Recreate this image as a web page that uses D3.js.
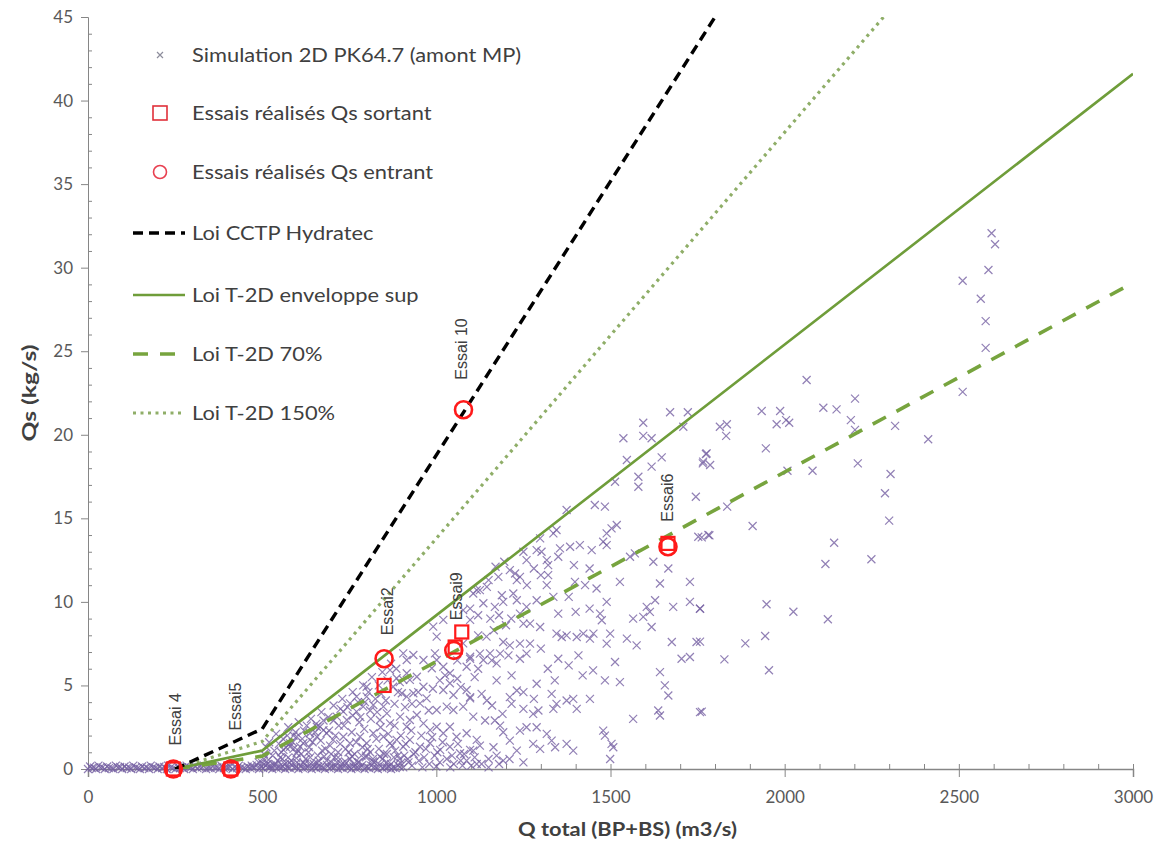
<!DOCTYPE html>
<html><head><meta charset="utf-8">
<script src="https://cdn.jsdelivr.net/npm/d3@7"></script>
<style>
html,body{margin:0;padding:0;background:#fff;}
svg{display:block;}
</style></head>
<body>
<svg id="chart" width="1162" height="841"></svg>
<script>
// ---------------- DATA ----------------
const xTicks = [0, 500, 1000, 1500, 2000, 2500, 3000];
const yTicks = [0, 5, 10, 15, 20, 25, 30, 35, 40, 45];
const xLabel = "Q total (BP+BS) (m3/s)";
const yLabel = "Qs (kg/s)";

// Laws (Q, Qs)
const lawCCTP = [[250, 0], [500, 2.4], [1800, 45]];
const lawT2D = [[250, 0], [500, 1.1], [3000, 41.6]];
const lawT2D70 = [[250, 0], [500, 0.77], [3000, 29.1]];
const lawT2D150 = [[250, 0], [500, 1.65], [3000, 62.4]];

// Essais (tests)
const essaisSortant = [[245, 0], [410, 0], [850, 5.0], [1054, 7.3], [1073, 8.2], [1665, 13.5]];
const essaisEntrant = [[245, 0], [410, 0], [850, 6.6], [1050, 7.1], [1078, 21.5], [1665, 13.3]];
const essaiNames = ["Essai 4", "Essai5", "Essai2", "Essai9", "Essai 10", "Essai6"];
const essaiLabelQ = [253, 425, 860, 1060, 1075, 1665];
const essaiLabelQs = [1.4, 2.3, 8.0, 8.9, 23.3, 14.8];

// Simulation 2D PK64.7 (amont MP) scatter
const simZeroBand = [
  [0,0],[11,0.05],[23,0],[36,0.1],[48,0],[60,0.05],[73,0],[86,0.1],[98,0],[111,0.05],[124,0],[137,0.1],[149,0],
  [162,0.05],[175,0],[187,0.1],[200,0],[213,0.05],[226,0],[238,0.1],[251,0],[264,0.05],[276,0],[289,0.1],
  [301,0],[314,0.05],[327,0.1],[339,0],[352,0.05],[365,0.1],[377,0],[390,0.05],[402,0.1],[415,0],[428,0.05],
  [440,0.1],[453,0],[466,0.05],[478,0.1],[491,0],[503,0.05],[516,0.1],[529,0],[541,0.05],[554,0.1],[566,0],
  [579,0.05],[592,0.1],[604,0],[617,0.05],[630,0.1],[642,0],[655,0.05],[668,0.1],[680,0],[693,0.05],[706,0.1],
  [718,0],[731,0.05],[744,0.1],[756,0],[769,0.05],[782,0.1],[794,0],[807,0.05],[820,0.1],[832,0],[845,0.05],
  [858,0.1],[870,0],[883,0.05],[905,0.1],[930,0.2],[960,0.1],[1000,0.15],[1040,0.1],[1075,0.2],[1150,0.1],
  [6,0.15],[30,0.2],[55,0.15],[80,0.2],[105,0.15],[130,0.2],[155,0.15],[180,0.2],[205,0.15],[230,0.2],
  [258,0.15],[283,0.2],[308,0.15],[333,0.2],[358,0.15],[383,0.2],[408,0.15],[433,0.2],[458,0.15],[484,0.25],
  [510,0.2],[535,0.25],[560,0.15],[585,0.25],[610,0.2],[636,0.25],[661,0.15],[686,0.25],[712,0.2],[737,0.25],
  [762,0.15],[788,0.25],[813,0.2],[838,0.25],[864,0.15],[889,0.25],
  [17,0.08],[42,0.1],[67,0.05],[92,0.12],[118,0.08],[143,0.05],[168,0.1],[193,0.08],[219,0.12],[244,0.05],
  [270,0.1],[295,0.08],[320,0.12],[346,0.05],[371,0.1],[396,0.08],[421,0.12],[447,0.05],[472,0.1],[497,0.12],
  [522,0.08],[548,0.12],[573,0.08],[598,0.12],[623,0.08],[649,0.12],[674,0.08],[699,0.12],[725,0.08],
  [750,0.12],[775,0.08],[800,0.12],[826,0.08],[851,0.12],[876,0.08],[895,0.12]
];
const simLow = [
  [470,0.2],[490,0.4],[505,0.6],[515,0.3],[530,0.8],[545,0.5],[555,1.0],[565,0.3],[575,0.7],[590,1.2],
  [600,0.4],[612,0.9],[625,0.6],[635,1.3],[648,0.3],[660,0.8],[672,1.1],[685,0.5],[695,1.4],[708,0.7],
  [718,1.0],[728,0.3],[740,1.2],[752,0.6],[765,0.9],[775,0.4],[788,1.3],[798,0.7],[810,1.0],[822,0.4],
  [835,1.2],[845,0.6],[858,0.9],[870,0.3],[882,1.1],[895,0.6],[908,0.8],[920,0.4],[935,0.9],[950,0.5],
  [965,0.7],[980,0.3],[995,0.8],[1010,0.4],[1030,0.6],[1050,0.3],[1070,0.5],[1100,0.2],[1130,0.3],
  [520,1.6],[540,2.1],[560,1.8],[575,2.5],[590,2.0],[605,2.8],[620,2.3],[640,3.0],[655,2.7],[670,3.4],
  [690,3.1],[705,3.8],[720,2.6],[730,4.2],[745,3.7],[760,4.6],[775,4.0],[790,5.0],[805,4.6],[815,5.5],
  [825,4.2],[835,5.0],[845,5.8],[860,5.3],[870,6.3],[885,6.0],[895,5.2]
];
const simDense = [
  [505,0.9],[512,1.3],[525,0.2],[535,1.1],[548,1.5],[552,0.7],[568,1.3],[572,2.0],[583,0.5],[588,1.6],
  [596,2.2],[603,1.1],[615,1.8],[622,0.3],[628,2.6],[633,1.0],[645,1.6],[652,2.2],[662,0.5],[668,1.7],
  [676,2.9],[681,1.2],[692,2.3],[698,0.9],[710,2.0],[715,0.4],[724,1.5],[735,2.6],[748,1.0],[757,2.2],
  [763,0.3],[770,1.6],[779,2.8],[785,0.8],[793,2.4],[803,1.2],[812,3.0],[818,0.6],[828,1.8],[840,2.5],
  [850,0.9],[862,2.1],[873,1.4],[880,2.6],[890,0.8],[898,2.0],[912,1.5],[928,2.3],[940,1.0],[957,2.0],
  [970,1.2],[988,1.9],[1003,1.0],[1018,1.6],[1045,0.8],[1062,1.5],[1080,0.9],[1110,0.7],[1125,1.4],
  [1150,0.6],[1180,0.3],[1210,0.6],[1250,0.4],
  [705,2.9],[725,3.6],[760,3.2],[782,3.1],[795,4.0],[810,3.5],[830,3.4],[842,4.5],[855,4.1],[880,3.9],
  [890,4.6],[910,3.7],[930,3.9],[948,4.6],[978,3.5],[990,4.8],[1010,5.3],[1025,5.6],[1060,5.4],[1070,4.9],
  [1110,5.5],[1120,6.0],[1060,6.5],[1120,8.0],[1155,9.0],[1165,8.3],[1180,9.2],[1200,8.6],[1215,9.0],
  [1150,11.3],[1170,12.1],[1195,12.4],[1260,11.0],[1280,12.0],[1300,11.6],[1350,12.7],[1395,12.2],
  [1440,12.0],[1460,10.8],[1440,9.6],[1400,9.4],[1380,10.3],[1350,9.3],[1420,5.6],[1450,5.9],[1380,6.2],
  [1350,6.6],[1300,7.2],[1320,6.0],[1340,5.3],[1280,4.2],[1250,4.6],[1190,3.3],[1160,3.8],
  [500,0.35],[518,0.55],[538,0.3],[558,0.6],[578,0.35],[598,0.65],[618,0.4],[638,0.7],[658,0.35],
  [678,0.75],[698,0.4],[718,0.7],[738,0.45],[758,0.75],[778,0.4],[798,0.8],[818,0.45],[838,0.75],
  [858,0.4],[878,0.7],[898,0.35],[918,0.6]
];
const simMid = [
  [905,6.92],[915,6.52],[934,6.82],[963,6.52],[987,6.03],[996,6.92],[1077,7.52],[1087,6.12],[1097,6.72],
  [1039,5.13],[1020,4.73],[1049,4.43],[1087,4.73],[915,5.73],[924,5.33],[944,5.52],[886,5.43],[876,4.92],
  [901,4.53],[915,4.33],[963,4.92],[972,4.23],[953,3.93],[1001,3.53],[1030,3.73],[1049,3.53],[1077,3.73],
  [1097,4.23],[1106,3.13],[800,4.33],[819,3.83],[790,3.73],[771,3.43],[752,3.93],[733,3.43],[714,3.13],
  [743,2.93],[848,3.73],[858,3.33],[838,2.93],[867,2.73],[896,3.13],[924,2.93],[944,3.23],[915,2.53],
  [963,2.73],[982,2.33],[1001,2.53],[1020,2.14],[1039,2.53],[1058,1.93],[1087,2.14],[1116,1.74],[666,2.53],
  [685,2.14],[657,1.93],[637,1.74],[618,1.54],[704,1.74],[733,1.93],[752,1.54],[781,1.93],[800,1.54],
  [819,2.14],[848,1.93],[867,1.54],[886,1.74],[905,1.33],[924,1.74],[953,1.33],[982,1.54],[1011,1.14],
  [1039,1.33],[1068,0.94],[1097,1.14],[580,1.33],[561,1.14],[599,0.94],
  [867,5.92],[800,4.92],[771,4.33],[905,5.33],[934,4.53],[676,2.33],[657,2.53],[637,2.14],[599,1.93],
  [580,1.54],[609,1.33],[991,8.52],[1020,8.92],[1001,7.92],[1106,10.5],[1125,10.7],[1135,9.92],
  [1077,9.51],[1097,8.92],[1144,7.92],[1154,6.92],[1135,6.52],[1173,6.32],[1001,6.52],[1020,6.12],[1039,5.73]
];
const simHigh = [
  [1671,21.35],[1722,21.35],[1594,20.72],[1709,20.48],[1537,19.79],[1594,19.93],[1618,19.79],[1547,18.49],
  [1647,18.65],[1776,18.89],[1766,18.39],[1618,18.09],[1513,17.19],[1580,17.49],[1580,16.89],[1745,16.29],
  [1455,15.8],[1484,15.7],[1374,15.5],[1518,14.6],[1503,14.4],[1345,14.3],[1336,14.1],[1489,14.1],
  [1479,13.6],[1489,13.4],[1298,13.8],[1384,13.3],[1355,13.2],[1412,13.4],[1446,13.1],[1288,13.1],
  [1302,13.0],[1250,13.0],[1317,12.5],[1321,12.2],[1259,12.5],[1556,12.7],[1570,12.9],[1752,13.9],
  [1781,14.0],[1666,12.0],[1623,12.4],[1211,11.9],[1226,11.7],[1231,11.3],[1240,11.5],[1178,11.5],
  [1188,10.4],[1145,10.9],[1116,10.7],[1321,11.6],[1398,11.2],[1427,11.0],[1317,11.0],[1527,11.2],
  [1642,11.1],[1728,11.2],[1221,10.5],[1231,10.1],[1288,10.1],[1168,9.7],[1192,10.0],[1097,9.6],
  [1120,9.2],[1259,9.7],[1240,9.3],[1250,8.7],[1336,10.3],[1470,9.3],[1475,8.9],[1489,10.0],[1604,9.7],
  [1613,9.4],[1594,9.1],[1618,8.5],[1565,9.0],[1628,10.1],[1680,9.7],[1728,10.0],[1757,9.6],[1269,8.7],
  [1298,8.5],[1345,8.1],[1360,7.9],[1374,8.0],[1403,7.9],[1422,8.1],[1451,8.1],[1441,7.8],[1499,8.1],
  [1547,7.8],[1575,7.4],[1489,7.5],[1676,7.6],[1704,6.6],[1728,6.7],[1747,7.6],[1192,7.6],[1211,7.4],
  [1240,7.5],[1269,7.5],[1125,6.9],[1159,6.5],[1097,6.6],[1183,6.9],[1207,6.8],[1240,6.6],[1259,6.9],
  [1408,6.8],[1513,6.4],[1642,5.8],[1484,5.3],[1527,5.2],[1656,5.0],[1666,4.4],[1173,5.3],[1216,5.6],
  [1231,4.7],[1288,5.1],[1331,4.5],[1097,4.3],[1130,4.5],[1145,4.1],[1211,4.3],[1216,3.9],[1250,3.6],
  [1278,3.3],[1293,3.5],[1345,3.9],[1374,4.1],[1393,4.2],[1403,3.6],[1336,3.6],[1441,4.2],[1565,3.0],
  [1637,3.5],[1642,3.2],[1757,3.4],[1479,2.3],[1484,2.0],[1503,1.5],[1508,1.3],[1499,0.6],[1140,2.9],
  [1168,2.9],[1183,2.6],[1192,2.2],[1240,2.3],[1259,2.5],[1288,2.5],[1317,2.1],[1211,1.7],[1231,1.1],
  [1278,1.5],[1298,1.2],[1331,1.7],[1341,1.3],[1374,1.5],[1393,1.1],[1164,1.3],[1173,0.8],[1192,0.5],
  [1106,1.1],[1087,0.5],[1116,0.3]
];
const simRight = [
  [2063,23.28],[2202,22.16],[1934,21.42],[1987,21.42],[2111,21.62],[2149,21.52],[2190,20.88],[1814,20.48],
  [1834,20.63],[1832,19.93],[1977,20.63],[2004,20.88],[2013,20.72],[2202,20.29],[2317,20.53],[1946,19.19],
  [1774,18.85],[1765,18.29],[1786,18.19],[2008,17.85],[2080,17.85],[2210,18.29],[2304,17.65],[2288,16.5],
  [1835,15.7],[2300,14.86],[1908,14.54],[1784,13.98],[1762,13.86],[2142,13.54],[2117,12.27],[2249,12.55],
  [1757,9.59],[1948,9.86],[2025,9.41],[2124,8.96],[1757,7.62],[1944,7.96],[1887,7.52],[1827,6.56],
  [1955,5.91],[1762,3.43],
  [2594,32.06],[2604,31.4],[2585,29.86],[2511,29.22],[2563,28.14],[2577,26.8],[2577,25.2],[2511,22.57],[2412,19.73]
];

const legendItems = [
  {label: "Simulation 2D PK64.7 (amont MP)", type: "cross"},
  {label: "Essais réalisés Qs sortant", type: "square"},
  {label: "Essais réalisés Qs entrant", type: "circle"},
  {label: "Loi CCTP Hydratec", type: "cctp"},
  {label: "Loi T-2D enveloppe sup", type: "t2d"},
  {label: "Loi T-2D 70%", type: "t2d70"},
  {label: "Loi T-2D 150%", type: "t2d150"}
];

// ---------------- STYLES ----------------
const C = {
  axis: "#868686", tick: "#595959", text: "#404040",
  sim: "#7660a3", red: "#ff1a1a", green: "#6f9d3a", green70: "#77a43e", green150: "#8fae68", black: "#000"
};
const lineStyles = {
  cctp: {color: C.black, width: 3.4, dash: "10,6"},
  t2d: {color: C.green, width: 2.6, dash: null},
  t2d70: {color: C.green70, width: 3.6, dash: "15,12"},
  t2d150: {color: C.green150, width: 3.2, dash: "3,4.5"}
};

const svg = d3.select("#chart");
const plot = {left: 88, right: 1133, top: 17, bottom: 769};

const x = d3.scaleLinear().domain([0, 3000]).range([plot.left, plot.right]);
const y = d3.scaleLinear().domain([0, 45]).range([plot.bottom, plot.top]);

svg.append("defs").append("clipPath").attr("id", "clip")
  .append("rect").attr("x", plot.left).attr("y", plot.top)
  .attr("width", plot.right - plot.left).attr("height", plot.bottom - plot.top);

// ---------------- AXES ----------------
const fontTick = "Lato, 'Open Sans', sans-serif";

const yAxisG = svg.append("g").attr("transform", `translate(${plot.left},0)`)
  .call(d3.axisLeft(y).tickValues(yTicks).tickSize(7).tickPadding(8).tickFormat(d3.format("d")));
yAxisG.select(".domain").attr("stroke", C.axis);
yAxisG.selectAll(".tick line").attr("stroke", C.axis);
yAxisG.selectAll(".tick text").attr("fill", C.tick).style("font-family", fontTick).style("font-size", "17px");
const yMinor = d3.range(1, 45).filter(v => v % 5 !== 0);
svg.append("g").selectAll("line").data(yMinor).join("line")
  .attr("x1", plot.left).attr("x2", plot.left + 4)
  .attr("y1", d => y(d) + 0.5).attr("y2", d => y(d) + 0.5)
  .attr("stroke", C.axis).attr("stroke-width", 1);

const xAxisG = svg.append("g").attr("transform", `translate(0,${plot.bottom})`)
  .call(d3.axisBottom(x).tickValues(xTicks).tickSize(8).tickPadding(14).tickFormat(d3.format("d")));
xAxisG.select(".domain").attr("stroke", C.axis).attr("stroke-width", 1.5);
xAxisG.selectAll(".tick line").attr("stroke", C.axis).attr("y1", -5);
xAxisG.selectAll(".tick text").attr("fill", C.tick).style("font-family", fontTick).style("font-size", "17px");
const xMinor = d3.range(100, 3000, 100).filter(v => v % 500 !== 0);
svg.append("g").selectAll("line").data(xMinor).join("line")
  .attr("x1", d => x(d) + 0.5).attr("x2", d => x(d) + 0.5)
  .attr("y1", plot.bottom - 5).attr("y2", plot.bottom)
  .attr("stroke", C.axis).attr("stroke-width", 1);

svg.append("text").attr("transform", `translate(${(plot.left + plot.right) / 2 + 17},836) scale(1.15,1)`)
  .attr("text-anchor", "middle").attr("fill", C.text)
  .style("font-family", fontTick).style("font-weight", "bold").style("font-size", "19px")
  .text(xLabel);
svg.append("text").attr("transform", `translate(36,${(plot.top + plot.bottom) / 2}) rotate(-90) scale(1.3,1)`)
  .attr("text-anchor", "middle").attr("fill", C.text)
  .style("font-family", fontTick).style("font-weight", "bold").style("font-size", "19px")
  .text(yLabel);

// ---------------- SCATTER ----------------
const crossPath = "M-4,-4L4,4M-4,4L4,-4";
const simAll = simZeroBand.concat(simLow, simDense, simMid, simHigh, simRight);
svg.append("g").selectAll("path").data(simAll).join("path")
  .attr("d", crossPath)
  .attr("transform", d => `translate(${x(d[0])},${y(d[1])})`)
  .attr("fill", "none").attr("stroke", C.sim).attr("stroke-width", 1.2).attr("stroke-opacity", 0.8);

// ---------------- LINES ----------------
const line = d3.line().x(d => x(d[0])).y(d => y(d[1]));
const linesG = svg.append("g").attr("clip-path", "url(#clip)");
[["t2d70", lawT2D70], ["t2d150", lawT2D150], ["t2d", lawT2D], ["cctp", lawCCTP]].forEach(([k, data]) => {
  const s = lineStyles[k];
  linesG.append("path").datum(data).attr("d", line)
    .attr("fill", "none").attr("stroke", s.color).attr("stroke-width", s.width)
    .attr("stroke-dasharray", s.dash).attr("stroke-linejoin", "round");
});

// ---------------- ESSAIS ----------------
svg.append("g").selectAll("rect").data(essaisSortant).join("rect")
  .attr("x", d => x(d[0]) - 6.5).attr("y", d => y(d[1]) - 6.5)
  .attr("width", 13).attr("height", 13)
  .attr("fill", "none").attr("stroke", C.red).attr("stroke-width", 2.2);
svg.append("g").selectAll("circle").data(essaisEntrant).join("circle")
  .attr("cx", d => x(d[0])).attr("cy", d => y(d[1])).attr("r", 8.5)
  .attr("fill", "none").attr("stroke", C.red).attr("stroke-width", 2.6);

svg.append("g").selectAll("text").data(essaiNames).join("text")
  .attr("transform", (d, i) => `translate(${x(essaiLabelQ[i]) + 5},${y(essaiLabelQs[i])}) rotate(-90)`)
  .attr("fill", C.text)
  .style("font-family", "'Liberation Sans', Arial, sans-serif").style("font-size", "16px")
  .text(d => d);

// ---------------- LEGEND ----------------
const legY = [55, 113, 172, 233, 295, 354, 413];
const leg = svg.append("g");
legendItems.forEach((it, i) => {
  const g = leg.append("g").attr("transform", `translate(0,${legY[i]})`);
  if (it.type === "cross") {
    g.append("path").attr("d", "M-3,-3L3,3M-3,3L3,-3").attr("transform", "translate(160,0)")
      .attr("stroke", "#8d8d9c").attr("stroke-width", 1.2).attr("fill", "none");
  } else if (it.type === "square") {
    g.append("rect").attr("x", 153).attr("y", -7).attr("width", 14).attr("height", 14)
      .attr("fill", "none").attr("stroke", "#e0303a").attr("stroke-width", 1.6);
  } else if (it.type === "circle") {
    g.append("circle").attr("cx", 160).attr("cy", 0).attr("r", 6.5)
      .attr("fill", "none").attr("stroke", "#e84050").attr("stroke-width", 1.6);
  } else {
    const s = lineStyles[it.type];
    g.append("line").attr("x1", 133).attr("x2", 185).attr("y1", 0).attr("y2", 0)
      .attr("stroke", s.color).attr("stroke-width", s.width).attr("stroke-dasharray", s.dash);
  }
  g.append("text").attr("transform", "translate(192,0) scale(1.15,1)").attr("dy", "0.35em")
    .attr("fill", C.text).style("font-family", fontTick).style("font-size", "19px")
    .text(it.label);
});
</script>
</body></html>
